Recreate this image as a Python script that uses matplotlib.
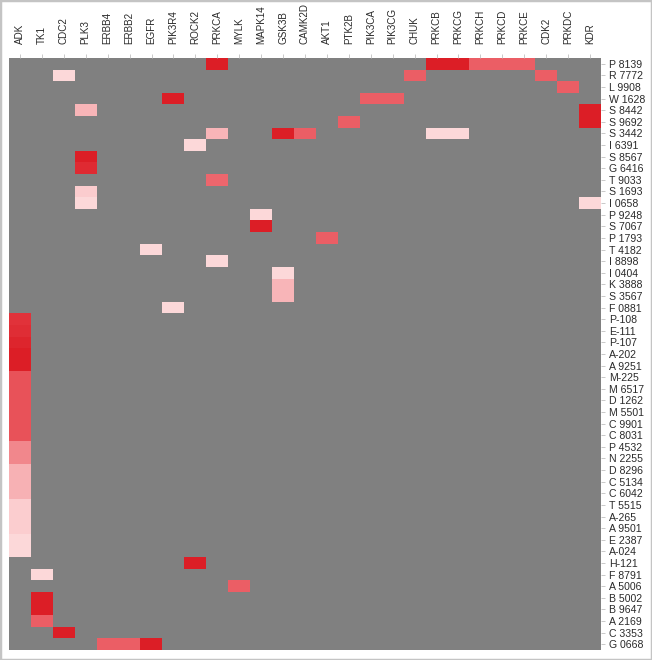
import numpy as np
import matplotlib
matplotlib.use("Agg")
import matplotlib.pyplot as plt
from matplotlib.colors import LinearSegmentedColormap
from matplotlib.patches import Rectangle

genes = ["ADK", "TK1", "CDC2", "PLK3", "ERBB4", "ERBB2", "EGFR", "PIK3R4", "ROCK2",
         "PRKCA", "MYLK", "MAPK14", "GSK3B", "CAMK2D", "AKT1", "PTK2B", "PIK3CA",
         "PIK3CG", "CHUK", "PRKCB", "PRKCG", "PRKCH", "PRKCD", "PRKCE", "CDK2",
         "PRKDC", "KDR"]

compounds = ["P 8139", "R 7772", "L 9908", "W 1628", "S 8442", "S 9692", "S 3442",
             "I 6391", "S 8567", "G 6416", "T 9033", "S 1693", "I 0658", "P 9248",
             "S 7067", "P 1793", "T 4182", "I 8898", "I 0404", "K 3888", "S 3567",
             "F 0881", "P-108", "E-111", "P-107", "A-202", "A 9251", "M-225",
             "M 6517", "D 1262", "M 5501", "C 9901", "C 8031", "P 4532", "N 2255",
             "D 8296", "C 5134", "C 6042", "T 5515", "A-265", "A 9501", "E 2387",
             "A-024", "H-121", "F 8791", "A 5006", "B 5002", "B 9647", "A 2169",
             "C 3353", "G 0668"]

# (compound, gene, relative activity 0..1)
cells = [
    ("P 8139", "PRKCA", 1.0), ("P 8139", "PRKCB", 1.0), ("P 8139", "PRKCG", 1.0),
    ("P 8139", "PRKCH", 0.75), ("P 8139", "PRKCD", 0.75), ("P 8139", "PRKCE", 0.75),
    ("R 7772", "CDC2", 0.12), ("R 7772", "CHUK", 0.75), ("R 7772", "CDK2", 0.75),
    ("L 9908", "PRKDC", 0.75),
    ("W 1628", "PIK3R4", 1.0), ("W 1628", "PIK3CA", 0.75), ("W 1628", "PIK3CG", 0.75),
    ("S 8442", "PLK3", 0.4), ("S 8442", "KDR", 1.0),
    ("S 9692", "PTK2B", 0.75), ("S 9692", "KDR", 1.0),
    ("S 3442", "PRKCA", 0.4), ("S 3442", "GSK3B", 1.0), ("S 3442", "CAMK2D", 0.75),
    ("S 3442", "PRKCB", 0.12), ("S 3442", "PRKCG", 0.12),
    ("I 6391", "ROCK2", 0.12),
    ("S 8567", "PLK3", 1.0),
    ("G 6416", "PLK3", 0.95),
    ("T 9033", "PRKCA", 0.72),
    ("S 1693", "PLK3", 0.25),
    ("I 0658", "PLK3", 0.12), ("I 0658", "KDR", 0.12),
    ("P 9248", "MAPK14", 0.12),
    ("S 7067", "MAPK14", 1.0),
    ("P 1793", "AKT1", 0.75),
    ("T 4182", "EGFR", 0.12),
    ("I 8898", "PRKCA", 0.12),
    ("I 0404", "GSK3B", 0.12),
    ("K 3888", "GSK3B", 0.4), ("S 3567", "GSK3B", 0.4),
    ("F 0881", "PIK3R4", 0.12),
    ("P-108", "ADK", 0.92), ("E-111", "ADK", 0.94), ("P-107", "ADK", 0.97),
    ("A-202", "ADK", 1.0), ("A 9251", "ADK", 1.0),
    ("M-225", "ADK", 0.8), ("M 6517", "ADK", 0.8), ("D 1262", "ADK", 0.8),
    ("M 5501", "ADK", 0.8), ("C 9901", "ADK", 0.8), ("C 8031", "ADK", 0.8),
    ("P 4532", "ADK", 0.6), ("N 2255", "ADK", 0.6),
    ("D 8296", "ADK", 0.42), ("C 5134", "ADK", 0.42), ("C 6042", "ADK", 0.42),
    ("T 5515", "ADK", 0.24), ("A-265", "ADK", 0.24), ("A 9501", "ADK", 0.24),
    ("E 2387", "ADK", 0.12), ("A-024", "ADK", 0.12),
    ("H-121", "ROCK2", 1.0),
    ("F 8791", "TK1", 0.12),
    ("A 5006", "MYLK", 0.75),
    ("B 5002", "TK1", 1.0), ("B 9647", "TK1", 1.0), ("A 2169", "TK1", 0.75),
    ("C 3353", "CDC2", 1.0),
    ("G 0668", "ERBB4", 0.75), ("G 0668", "ERBB2", 0.75), ("G 0668", "EGFR", 1.0),
]

mat = np.full((len(compounds), len(genes)), np.nan)
for c, g, v in cells:
    mat[compounds.index(c), genes.index(g)] = v

cmap = LinearSegmentedColormap.from_list(
    "reds", [(0.0, "#fde3e4"), (0.3, "#fbc8ca"), (0.5, "#f5a3a6"),
             (0.75, "#ec5f66"), (1.0, "#dc1e26")])
cmap.set_bad("#808080")

W, H = 652, 660
fig = plt.figure(figsize=(W / 100, H / 100), dpi=100)
fig.patches.append(Rectangle((0, 0), 1, 1, transform=fig.transFigure,
                             facecolor="white", edgecolor="#c4c4c4", lw=2.5, zorder=-1))

left, right, top, bottom = 9, 601, 58, 650
ax = fig.add_axes([left / W, 1 - bottom / H, (right - left) / W, (bottom - top) / H])
ax.imshow(np.ma.masked_invalid(mat), cmap=cmap, vmin=0, vmax=1, aspect="auto",
          interpolation="nearest")

ax.set_xticks(range(len(genes)))
ax.set_xticklabels(genes, rotation=90, fontsize=7.1, family="Liberation Sans",
                   color="#2a2a2a")
ax.set_yticks(range(len(compounds)))
ax.set_yticklabels(compounds, fontsize=7.6, family="Liberation Sans", color="#2a2a2a")
ax.xaxis.tick_top()
ax.yaxis.tick_right()
ax.tick_params(axis="x", length=3, width=0.6, color="#c0c0c0", pad=7)
ax.tick_params(axis="y", length=3, width=0.6, color="#c0c0c0", pad=3)
for s in ax.spines.values():
    s.set_visible(False)

fig.savefig("out.png", dpi=100)
